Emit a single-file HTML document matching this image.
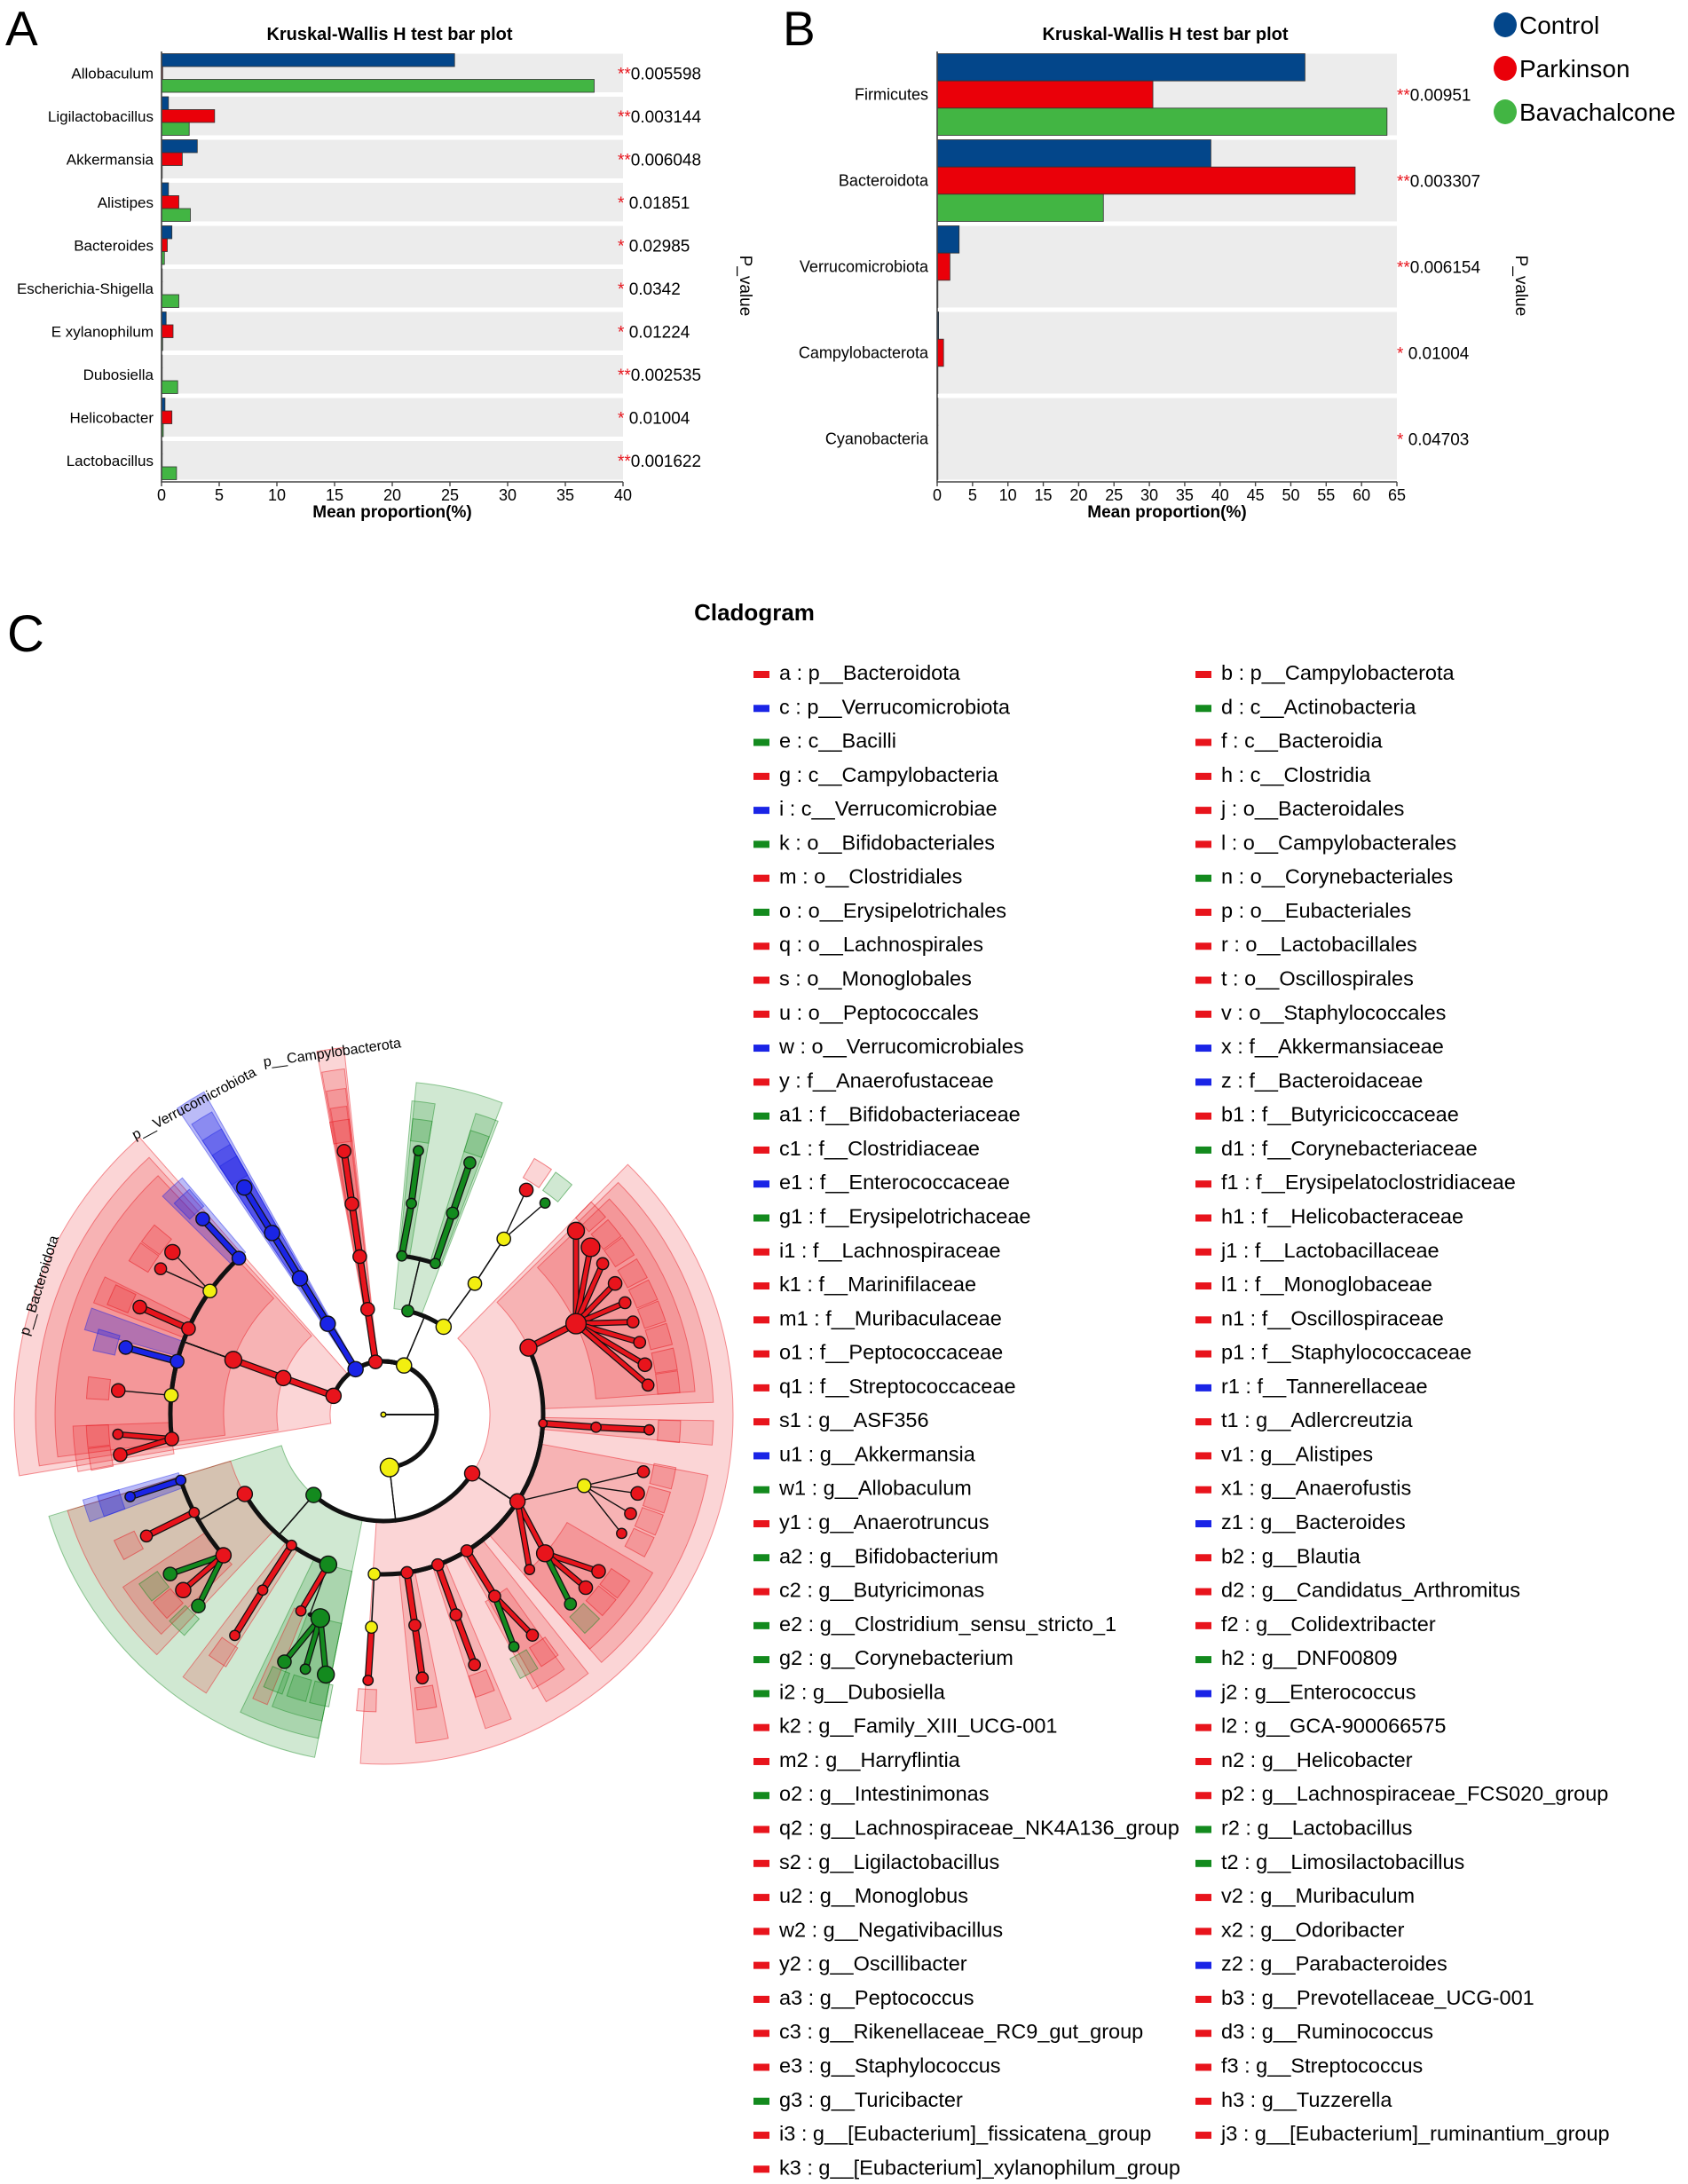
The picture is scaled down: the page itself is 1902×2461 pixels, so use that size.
<!DOCTYPE html>
<html><head><meta charset="utf-8">
<style>
html,body{margin:0;padding:0;background:#fff;}
svg{display:block;font-family:"Liberation Sans",Arial,sans-serif;}
</style></head>
<body>
<svg id="root" width="1902" height="2461" viewBox="0 0 1902 2461" xmlns="http://www.w3.org/2000/svg">
  <text x="6" y="51" font-size="55" fill="#000">A</text>
  <text x="882" y="51" font-size="55" fill="#000">B</text>
  <text x="8" y="734" font-size="58" fill="#000">C</text>
  <text x="439" y="45" font-size="20" font-weight="bold" text-anchor="middle">Kruskal-Wallis H test bar plot</text>
  <text x="1313" y="45" font-size="20" font-weight="bold" text-anchor="middle">Kruskal-Wallis H test bar plot</text>
  <text x="850" y="699" font-size="26" font-weight="bold" text-anchor="middle">Cladogram</text>
  <g id="gA"></g>
  <g id="gB"></g>
  <g id="legendTop"></g>
  <g id="clado"></g>
  <g id="cladoLegend"></g>
</svg>
<script>
// ---------- Chart A data ----------
const aCategories = ["Allobaculum","Ligilactobacillus","Akkermansia","Alistipes","Bacteroides","Escherichia-Shigella","E xylanophilum","Dubosiella","Helicobacter","Lactobacillus"];
const aControl    = [25.4, 0.6, 3.1, 0.6, 0.9, 0.05, 0.4, 0.05, 0.3, 0.05];
const aParkinson  = [0.1, 4.6, 1.8, 1.5, 0.5, 0.05, 1.0, 0.02, 0.9, 0.02];
const aBava       = [37.5, 2.4, 0.05, 2.5, 0.25, 1.5, 0.1, 1.4, 0.15, 1.3];
const aStars      = ["**","**","**","* ","* ","* ","* ","**","* ","**"];
const aPvalues    = ["0.005598","0.003144","0.006048","0.01851","0.02985","0.0342","0.01224","0.002535","0.01004","0.001622"];
const aTicks      = [0,5,10,15,20,25,30,35,40];
// ---------- Chart B data ----------
const bCategories = ["Firmicutes","Bacteroidota","Verrucomicrobiota","Campylobacterota","Cyanobacteria"];
const bControl    = [52.0, 38.7, 3.1, 0.2, 0.1];
const bParkinson  = [30.5, 59.1, 1.8, 0.9, 0.05];
const bBava       = [63.6, 23.5, 0.1, 0.1, 0.1];
const bStars      = ["**","**","**","* ","* "];
const bPvalues    = ["0.00951","0.003307","0.006154","0.01004","0.04703"];
const bTicks      = [0,5,10,15,20,25,30,35,40,45,50,55,60,65];
const groupNames  = ["Control","Parkinson","Bavachalcone"];

// ---------- Cladogram data ----------
const cladeNodes = [
 ["root",null,0,0,"Y",3],
 ["a","root",199.5,1,"R",9],["f","a",199,2,"R",9],["j","f",199,3,"R",10],
 ["r1","j",225.6,4,"B",8,"c"],["yb1","j",213.9,4,"Y",8,"c"],["m1","j",202.6,4,"R",8,"c"],["zf","j",193.7,4,"B",8,"c"],["yb2","j",184.9,4,"Y",8,"c"],["k1","j",173.8,4,"R",8,"c"],
 ["z2","r1",225.6,5,"B",8],["v1","yb1",216,5,"R",9,"l"],["c3","yb1",211.7,5,"R",7,"l"],["v2","m1",202.6,5,"R",8],["z1","zf",193.8,5,"B",8],["b3","yb2",184.9,5,"R",8,"l"],["c2","k1",176,5,"R",6,"l"],["x2","k1",171.8,5,"R",8,"l"],
 ["c","root",237,1,"B",9],["i","c",237,2,"B",9],["w","i",237,3,"B",9],["x","w",237,4,"B",9],["u1","x",237,5,"B",9],
 ["b","root",261,1,"R",8],["g","b",261,2,"R",8],["l","g",261,3,"R",8],["h1","l",261,4,"R",8],["n2","h1",261,5,"R",8],
 ["act","root",294,1,"Y",9],["d","act",284,2,"G",7,"c"],["ya","act",306,2,"Y",9,"c"],
 ["n","d",277,3,"G",6,"c"],["k","d",290,3,"G",6,"c"],["d1","n",278,4,"G",6],["g2","d1",278,5,"G",6],["a1","k",290,4,"G",7],["a2","a1",290,5,"G",7],
 ["yb","ya",306.5,3,"Y",8],["yc","yb",306,4,"Y",8],["t1","yc",304,5,"R",8,"l"],["h2","yc",309,5,"G",6,"l"],
 ["fir","root",83,1,"Y",11],["e","fir",132.6,2,"G",9,"c"],["h","fir",32,2,"R",9,"c"],
 ["q","h",336.5,3,"R",10,"c"],["u","h",3,3,"R",5,"c"],["t","h",31.4,3,"R",9,"c"],["m","h",57,3,"R",7,"c"],["s","h",69,3,"R",7,"c"],["p","h",81,3,"R",7,"c"],["yh","h",93.5,3,"Y",7,"c"],
 ["i1","q",336,4,"R",12],
 ["q1g","i1",318,5,"R",10,"l"],["q2g","i1",322.7,5,"R",11,"l"],["p2","i1",327,5,"R",7,"l"],["l2","i1",331.9,5,"R",8,"l"],["b2","i1",336.4,5,"R",7,"l"],["i3","i1",340.7,5,"R",7,"l"],["s1","i1",345.1,5,"R",7,"l"],["t3","i1",349.8,5,"R",8,"l"],["h3","i1",354,5,"R",7,"l"],
 ["o1","u",3.2,4,"R",6],["a3","o1",3.1,5,"R",6],
 ["yt","t",18.5,4,"Y",8,"l"],["n1","t",39,4,"R",10,"l"],["b1","t",45,4,"R",6,"l"],
 ["m2","yt",11.7,5,"R",7,"l"],["d3","yt",16.3,5,"R",8,"l"],["y1","yt",20.7,5,"R",7,"l"],["w2","yt",25.2,5,"R",6,"l"],
 ["z2b","n1",34.5,5,"R",8,"l"],["y2","n1",38.9,5,"R",8,"l"],["o2","n1",43.7,5,"G",7,"l"],
 ["c1","m",57,4,"R",7],["d2","c1",54.4,5,"R",7,"l"],["e2","c1",59.2,5,"G",6,"l"],
 ["l1","s",69,4,"R",7],["u2","l1",68.9,5,"R",7],
 ["y","p",81,4,"R",7],["x1","y",81.1,5,"R",7],
 ["yh2","yh",93.4,4,"Y",7],["k2","yh2",93.5,5,"R",6],
 ["r","e",151.6,3,"R",9,"c"],["v","e",126.7,3,"R",6,"c"],["o","e",111.3,3,"G",10,"c"],
 ["e1","r",163,4,"B",6,"c"],["q1","r",154,4,"R",6,"c"],["j1","r",140.3,4,"R",9,"c"],
 ["j2","e1",163,5,"B",6],["f3","q1",154.2,5,"R",7],
 ["t2","j1",144.8,5,"G",8,"l"],["s2","j1",140.4,5,"R",9,"l"],["r2","j1",135.7,5,"G",8,"l"],
 ["v4","v",126.1,4,"R",6],["e3","v4",125.5,5,"R",6],
 ["g1","o",108.2,4,"G",11],["f1","o",114,4,"R",6,"l"],
 ["i2","g1",113,5,"G",8,"l"],["g3","g1",108,5,"G",6,"l"],["w1","g1",103.2,5,"G",10,"l"]
];
const cladeSectors = [
 [171,227,60,416,"R"],[172,226,120,392,"R"],[173,225,180,370,"R"],
 [223,228,240,350,"B"],[195,199,240,350,"B"],[200,205,240,350,"R"],[170,178,240,350,"R"],
 [234.5,239.5,60,416,"B"],[235,239,120,392,"B"],[235,239,180,370,"B"],[235,239,240,350,"B"],
 [259,263.5,60,416,"R"],[259.2,263.2,120,392,"R"],[259.4,263,180,370,"R"],[259.6,262.8,240,350,"R"],
 [276,292,120,376,"G"],[275.5,280,180,355,"G"],[288,292.5,180,355,"G"],
 [316,454,120,394,"R"],[317,358,180,372,"R"],[318,356,240,352,"R"],[1,5,180,372,"R"],[10,47,180,372,"R"],[29,47,240,352,"R"],
 [50,59,180,372,"R"],[53,60,240,352,"R"],[66,71,180,372,"R"],[78,84,180,372,"R"],
 [102,164,120,394,"G"],[135,164,180,372,"R"],[137,148,240,352,"R"],[161,165,240,352,"B"],
 [102,117,180,372,"G"],[102,112,240,352,"G"],[113,116,240,352,"R"],[124,129,180,372,"R"]
];
const levelRadii = [0,60,120,180,240,300];

// ---------- Cladogram legend data ----------
const legendCol1 = [
 ["R","a : p__Bacteroidota"],["B","c : p__Verrucomicrobiota"],["G","e : c__Bacilli"],["R","g : c__Campylobacteria"],["B","i : c__Verrucomicrobiae"],["G","k : o__Bifidobacteriales"],["R","m : o__Clostridiales"],["G","o : o__Erysipelotrichales"],["R","q : o__Lachnospirales"],["R","s : o__Monoglobales"],["R","u : o__Peptococcales"],["B","w : o__Verrucomicrobiales"],["R","y : f__Anaerofustaceae"],
 ["G","a1 : f__Bifidobacteriaceae"],["R","c1 : f__Clostridiaceae"],["B","e1 : f__Enterococcaceae"],["G","g1 : f__Erysipelotrichaceae"],["R","i1 : f__Lachnospiraceae"],["R","k1 : f__Marinifilaceae"],["R","m1 : f__Muribaculaceae"],["R","o1 : f__Peptococcaceae"],["R","q1 : f__Streptococcaceae"],["R","s1 : g__ASF356"],["B","u1 : g__Akkermansia"],["G","w1 : g__Allobaculum"],["R","y1 : g__Anaerotruncus"],
 ["G","a2 : g__Bifidobacterium"],["R","c2 : g__Butyricimonas"],["G","e2 : g__Clostridium_sensu_stricto_1"],["G","g2 : g__Corynebacterium"],["G","i2 : g__Dubosiella"],["R","k2 : g__Family_XIII_UCG-001"],["R","m2 : g__Harryflintia"],["G","o2 : g__Intestinimonas"],["R","q2 : g__Lachnospiraceae_NK4A136_group"],["R","s2 : g__Ligilactobacillus"],["R","u2 : g__Monoglobus"],["R","w2 : g__Negativibacillus"],["R","y2 : g__Oscillibacter"],
 ["R","a3 : g__Peptococcus"],["R","c3 : g__Rikenellaceae_RC9_gut_group"],["R","e3 : g__Staphylococcus"],["G","g3 : g__Turicibacter"],["R","i3 : g__[Eubacterium]_fissicatena_group"],["R","k3 : g__[Eubacterium]_xylanophilum_group"]
];
const legendCol2 = [
 ["R","b : p__Campylobacterota"],["G","d : c__Actinobacteria"],["R","f : c__Bacteroidia"],["R","h : c__Clostridia"],["R","j : o__Bacteroidales"],["R","l : o__Campylobacterales"],["G","n : o__Corynebacteriales"],["R","p : o__Eubacteriales"],["R","r : o__Lactobacillales"],["R","t : o__Oscillospirales"],["R","v : o__Staphylococcales"],["B","x : f__Akkermansiaceae"],["B","z : f__Bacteroidaceae"],
 ["R","b1 : f__Butyricicoccaceae"],["G","d1 : f__Corynebacteriaceae"],["R","f1 : f__Erysipelatoclostridiaceae"],["R","h1 : f__Helicobacteraceae"],["R","j1 : f__Lactobacillaceae"],["R","l1 : f__Monoglobaceae"],["R","n1 : f__Oscillospiraceae"],["R","p1 : f__Staphylococcaceae"],["B","r1 : f__Tannerellaceae"],["R","t1 : g__Adlercreutzia"],["R","v1 : g__Alistipes"],["R","x1 : g__Anaerofustis"],["B","z1 : g__Bacteroides"],
 ["R","b2 : g__Blautia"],["R","d2 : g__Candidatus_Arthromitus"],["R","f2 : g__Colidextribacter"],["G","h2 : g__DNF00809"],["B","j2 : g__Enterococcus"],["R","l2 : g__GCA-900066575"],["R","n2 : g__Helicobacter"],["R","p2 : g__Lachnospiraceae_FCS020_group"],["G","r2 : g__Lactobacillus"],["G","t2 : g__Limosilactobacillus"],["R","v2 : g__Muribaculum"],["R","x2 : g__Odoribacter"],["B","z2 : g__Parabacteroides"],
 ["R","b3 : g__Prevotellaceae_UCG-001"],["R","d3 : g__Ruminococcus"],["R","f3 : g__Streptococcus"],["R","h3 : g__Tuzzerella"],["R","j3 : g__[Eubacterium]_ruminantium_group"]
];

const NS = "http://www.w3.org/2000/svg";
function mk(tag, attrs, parent){
  const el = document.createElementNS(NS, tag);
  for (const k in attrs) el.setAttribute(k, attrs[k]);
  parent.appendChild(el);
  return el;
}
const SERIES_COLORS = ["#03468a","#ea0009","#42b543"];
const CL = {R:"#e8141c", G:"#138a1e", B:"#1a24e6", Y:"#f2ef10"};
const CLF = {R:"rgba(232,30,36,0.19)", G:"rgba(20,140,30,0.2)", B:"rgba(30,30,230,0.3)"};

function drawBarChart(g, cfg){
  const x0 = cfg.x0, x1 = cfg.x1, top = 58, bottom = 543;
  const max = cfg.ticks[cfg.ticks.length-1];
  const xs = v => x0 + (v / max) * (x1 - x0);
  const n = cfg.cats.length;
  const pitch = (bottom - top) / n;
  const gap = 5;
  const band = pitch - gap;
  const series = [cfg.s0, cfg.s1, cfg.s2];
  for (let i = 0; i < n; i++){
    const by = top + i * pitch + gap/2;
    const bg = mk("rect", {x:x0, y:by, width:x1-x0, height:band, fill:"#ececec"}, g);
    
    
    const bh = band / 3;
    for (let s = 0; s < 3; s++){
      const v = series[s][i];
      const r = mk("rect", {x:x0, y:by + s*bh, width:Math.max(0.8, xs(v)-x0), height:bh, fill:SERIES_COLORS[s], stroke:"#333", "stroke-width":0.8}, g);
      
      
    }
    const cy = by + band/2;
    const lab = mk("text", {x:cfg.labelX, y:cy+6, "font-size":cfg.labelSize, "text-anchor":"end", fill:"#000"}, g);
    lab.textContent = cfg.cats[i];
    
    
    const pt = mk("text", {x:cfg.pX, y:cy+7, "font-size":19, fill:"#000"}, g);
    const st = mk("tspan", {fill:"#e8141c"}, pt);
    st.textContent = cfg.stars[i];
    const pv = mk("tspan", {}, pt);
    pv.textContent = cfg.pvals[i];
    
    
  }
  const ax = mk("path", {d:`M${x0},${top} V${bottom} H${x1}`, stroke:"#444", "stroke-width":1.6, fill:"none"}, g);
  
  
  cfg.ticks.forEach(t => {
    const tx = xs(t);
    const tk = mk("line", {x1:tx, y1:bottom, x2:tx, y2:bottom+5, stroke:"#444", "stroke-width":1.4}, g);
    
    
    const tl = mk("text", {x:tx, y:564, "font-size":18, "text-anchor":"middle"}, g);
    tl.textContent = t;
    
    
  });
  const xt = mk("text", {x:(x0+x1)/2, y:583, "font-size":19, "font-weight":"bold", "text-anchor":"middle"}, g);
  xt.textContent = "Mean proportion(%)";
  
  
  const pl = mk("text", {x:cfg.pvX, y:322, "font-size":19, "text-anchor":"middle", transform:`rotate(90 ${cfg.pvX} 322)`}, g);
  pl.textContent = "P_value";
  
  
}

drawBarChart(document.getElementById("gA"), {x0:182, x1:702, labelX:173, labelSize:17, pX:696, pvX:834, cats:aCategories, s0:aControl, s1:aParkinson, s2:aBava, stars:aStars, pvals:aPvalues, ticks:aTicks});
drawBarChart(document.getElementById("gB"), {x0:1056, x1:1574, labelX:1046, labelSize:18, pX:1574, pvX:1708, cats:bCategories, s0:bControl, s1:bParkinson, s2:bBava, stars:bStars, pvals:bPvalues, ticks:bTicks});

(function(){
  const g = document.getElementById("legendTop");
  const ys = [28, 77, 126];
  groupNames.forEach((nm, i) => {
    const c = mk("ellipse", {cx:1696, cy:ys[i], rx:13, ry:14, fill:SERIES_COLORS[i]}, g);
    
    
    const t = mk("text", {x:1712, y:ys[i]+10, "font-size":28}, g);
    t.textContent = nm;
    
    
  });
})();

(function(){
  const g = document.getElementById("clado");
  const CX = 432, CY = 1594;
  const fix = a => { const r = a*Math.PI/180; return Math.atan2(1.06*Math.sin(r), Math.cos(r)); };
  const P = (a, r) => { const t = fix(a); return [CX + r*Math.cos(t), CY + r*Math.sin(t)]; };
  const fmt = p => p[0].toFixed(2) + "," + p[1].toFixed(2);
  function wedge(a0, a1, r0, r1){
    const large = (a1 - a0) > 180 ? 1 : 0;
    return `M${fmt(P(a0,r0))} L${fmt(P(a0,r1))} A${r1},${r1} 0 ${large} 1 ${fmt(P(a1,r1))} L${fmt(P(a1,r0))} A${r0},${r0} 0 ${large} 0 ${fmt(P(a0,r0))} Z`;
  }
  function arc(r, a0, a1){
    let d = ((a1 - a0) % 360 + 540) % 360 - 180;
    const sweep = d > 0 ? 1 : 0;
    return `M${fmt(P(a0,r))} A${r},${r} 0 0 ${sweep} ${fmt(P(a0+d,r))}`;
  }
  const sg = mk("g", {}, g);
  cladeSectors.forEach(s => {
    const p = mk("path", {d:wedge(s[0], s[1], s[2], s[3]), fill:CLF[s[4]], stroke:CL[s[4]], "stroke-opacity":0.45, "stroke-width":1}, sg);
    
    
  });
  const byId = {};
  cladeNodes.forEach(n => byId[n[0]] = n);
  cladeNodes.forEach(n => {
    if (n[3] === 5 && n[4] !== "Y"){
      const p = mk("path", {d:wedge(n[2]-2, n[2]+2, 310, 335), fill:CLF[n[4]], stroke:CL[n[4]], "stroke-opacity":0.5, "stroke-width":1}, sg);
      
      
    }
  });
  const eg = mk("g", {"stroke-linecap":"round", fill:"none"}, g);
  cladeNodes.forEach(n => {
    if (!n[1]) return;
    const par = byId[n[1]];
    const pr = levelRadii[par[3]], cr = levelRadii[n[3]];
    const col = n[4] === "Y" ? "#111" : CL[n[4]];
    const same = Math.abs(n[2] - par[2]) < 1.5;
    if (same && !n[6]){
      const d = `M${fmt(P(par[2],pr))} L${fmt(P(n[2],cr))}`;
      if (n[4] === "Y"){
        const l = mk("path", {d, stroke:"#111", "stroke-width":1.6}, eg);
         
      } else {
        const o = mk("path", {d, stroke:"#111", "stroke-width":8}, eg);
         
        const l = mk("path", {d, stroke:col, "stroke-width":5.5}, eg);
         
      }
    } else if (n[6] === "l"){
      const d = `M${fmt(P(par[2],pr))} L${fmt(P(n[2],cr))}`;
      if (par[4] === "Y" || n[4] === "Y"){
        const l = mk("path", {d, stroke:"#111", "stroke-width":1.4}, eg);
         
      } else {
        const o = mk("path", {d, stroke:"#111", "stroke-width":7}, eg);
         
        const l = mk("path", {d, stroke:col, "stroke-width":4.5}, eg);
         
      }
    } else {
      const a = mk("path", {d:arc(cr, par[2], n[2]), stroke:"#111", "stroke-width":5}, eg);
       
      const l = mk("path", {d:`M${fmt(P(par[2],pr))} L${fmt(P(par[2],cr))}`, stroke:"#111", "stroke-width":1.4}, eg);
       
    }
  });
  const ng = mk("g", {}, g);
  cladeNodes.forEach(n => {
    const p = P(n[2], levelRadii[n[3]]);
    const c = mk("circle", {cx:p[0], cy:p[1], r:n[5]*0.95, fill:CL[n[4]], stroke:"#111", "stroke-width":1.4}, ng);
    
    
  });
  const labs = [["p__Bacteroidota",49,1450,-73],["p__Verrucomicrobiota",221,1248,-28],["p__Campylobacterota",375,1191,-8]];
  labs.forEach(L => {
    const t = mk("text", {x:L[1], y:L[2], "font-size":16, "text-anchor":"middle", transform:`rotate(${L[3]} ${L[1]} ${L[2]})`}, g);
    t.textContent = L[0];
    
    
  });
})();

(function(){
  const g = document.getElementById("cladoLegend");
  const y0 = 757, step = 38.28;
  [[legendCol1, 849, 878], [legendCol2, 1347, 1376]].forEach(col => {
    col[0].forEach((it, i) => {
      const y = y0 + i*step;
      const m = mk("rect", {x:col[1], y:y-1, width:18, height:8, fill:CL[it[0]]}, g);
      
      
      const t = mk("text", {x:col[2], y:y+9, "font-size":23.5, fill:"#000"}, g);
      t.textContent = it[1];
      
      
    });
  });
})();
</script>
</body></html>
